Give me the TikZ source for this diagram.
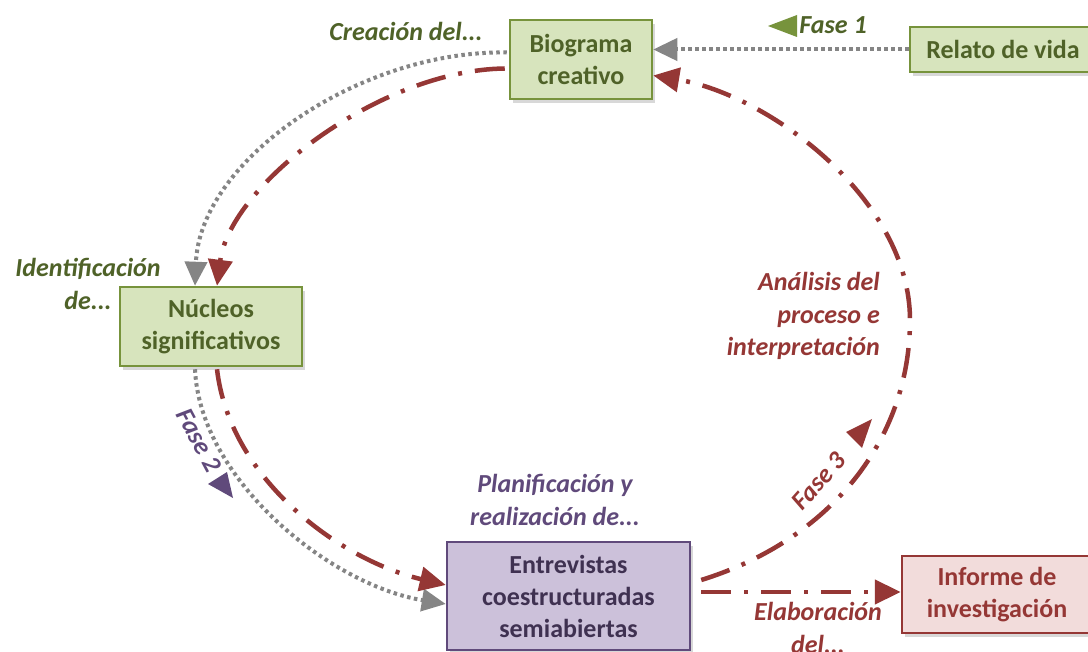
\documentclass[tikz,border=0pt]{standalone}
\usepackage{fontspec}
\setmainfont{Carlito}
\usetikzlibrary{arrows.meta,calc,shadows}
\definecolor{gfill}{HTML}{D7E4BD}
\definecolor{gdraw}{HTML}{77933C}
\definecolor{gtext}{HTML}{4F6228}
\definecolor{pfill}{HTML}{CCC1DA}
\definecolor{pdraw}{HTML}{604A7B}
\definecolor{ptext}{HTML}{3F3151}
\definecolor{rfill}{HTML}{F2DCDB}
\definecolor{rdraw}{HTML}{953735}
\definecolor{gline}{HTML}{858585}
\begin{document}
\begin{tikzpicture}[x=1pt,y=-1pt,
  box/.style={draw, line width=2.5pt, align=center, inner sep=0pt,
    font=\bfseries\fontsize{26}{32}\selectfont,
    drop shadow={opacity=0.3, shadow xshift=3pt, shadow yshift=-4pt}},
  gbox/.style={box, fill=gfill, draw=gdraw, text=gtext},
  pbox/.style={box, fill=pfill, draw=pdraw, text=ptext},
  rbox/.style={box, fill=rfill, draw=rdraw, text=rdraw},
  lbl/.style={inner sep=0pt, font=\bfseries\itshape\fontsize{26}{32.5}\selectfont},
  dotline/.style={draw=gline, line width=4pt, dash pattern=on 3.5pt off 3.5pt,
    -{Triangle[length=24pt,width=22pt]}},
  dashdot/.style={draw=rdraw, line width=4.5pt, dash pattern=on 30pt off 13pt on 4pt off 13pt,
    -{Triangle[length=26pt,width=24pt]}}
]
\useasboundingbox (0,0) rectangle (1088,652);
\fill[white] (0,0) rectangle (1088,652);

% boxes
\node[gbox, minimum width=142pt, minimum height=79pt] (bio) at (581,59.5) {Biograma\\creativo};
\node[gbox, minimum width=186pt, minimum height=45pt] (relato) at (1003,49.5) {Relato de vida};
\node[gbox, minimum width=182pt, minimum height=79pt] (nuc) at (211,326.5) {Núcleos\\significativos};
\node[pbox, minimum width=243pt, minimum height=108pt] (entre) at (568.5,596) {Entrevistas\\coestructuradas\\semiabiertas};
\node[rbox, minimum width=190pt, minimum height=77pt] (inf) at (997,594.5) {Informe de\\investigación};

% connectors
\draw[dotline] (relato.west) -- (relato.west -| bio.east);
\draw[dotline] ($(bio.west)+(-2,-7)$) .. controls (360,50) and (200,160) .. ($(nuc.north)+(-16,0)$);
\draw[dashdot] ($(bio.west)+(-4,9)$) .. controls (380,70) and (230,185) .. ($(nuc.north)+(6,0)$);
\draw[dotline] ($(nuc.south)+(-16,2)$) .. controls (200,480) and (330,585) .. ($(entre.west)+(0,8)$);
\draw[dashdot] ($(nuc.south)+(6,2)$) .. controls (230,480) and (340,560) .. ($(entre.west)+(0,-11)$);
\draw[dashdot] ($(entre.east)+(10,-16)$) .. controls (830,540) and (910,440) .. (910,320)
  .. controls (910,200) and (770,95) .. ($(bio.east)+(0,16)$);
\coordinate (e2) at ($(entre.east)+(10,-4)$);
\draw[dashdot] (e2) -- (e2 -| inf.west);

% labels
\node[lbl, text=gtext] (creacion) at (406,31) {Creación del...};
\node[lbl, text=gtext] (fase1) at (833,25) {Fase 1};
\fill[gdraw] (768,26) -- (797,15) -- (797,37) -- cycle;
\node[lbl, text=gtext, align=center] (ident) at (88,284) {Identificación\\de...};
\node[lbl, text=pdraw, rotate=-62] (fase2) at (199,440) {Fase 2};
\fill[pdraw] (233,498) -- (208,484) -- (227,472) -- cycle;
\node[lbl, text=pdraw, align=center] (plan) at (555,500) {Planificación y\\realización de...};
\node[lbl, text=rdraw, align=right, anchor=east] (anal) at (880,316) {Análisis del\\proceso e\\interpretación};
\node[lbl, text=rdraw, rotate=48] (fase3) at (819,481) {Fase 3};
\fill[rdraw] (872,419) -- (846,432) -- (862,448) -- cycle;
\node[lbl, text=rdraw, align=center] (elab) at (818,628) {Elaboración\\del...};
\end{tikzpicture}
\end{document}
